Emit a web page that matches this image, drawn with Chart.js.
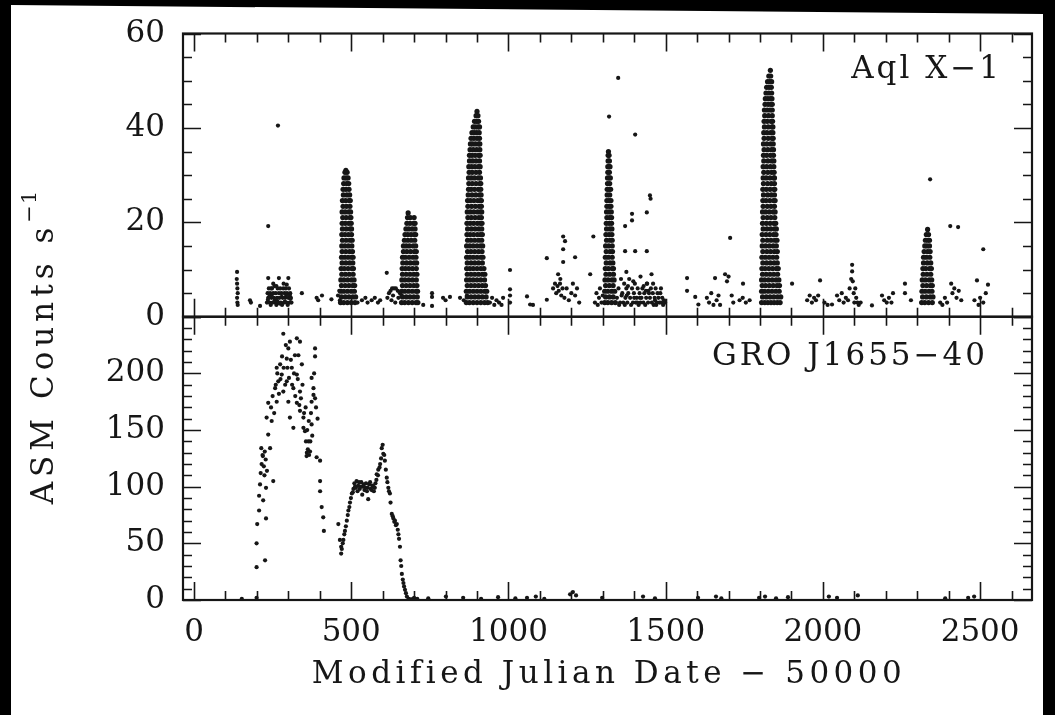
<!DOCTYPE html>
<html lang="en">
<head>
<meta charset="UTF-8">
<title>Aql X-1 / GRO J1655-40 ASM light curves</title>
<script src="https://cdn.jsdelivr.net/npm/chart.js@4"></script>
<style>
  html, body { margin: 0; padding: 0; background: #000; }
  body { width: 1055px; height: 715px; overflow: hidden; position: relative; }
  #sheet { position: absolute; left: 11px; top: 0; width: 1032px; height: 715px; background: #fff;
           clip-path: polygon(0 5px, 100% 14px, 100% 100%, 0 100%); }
  canvas { display: block; }
</style>
</head>
<body>
<div id="sheet"><canvas id="lc" width="1032" height="715"></canvas></div>
<script>
// axis ranges and tick labels
const xRange = [-35, 2665];
const aqlRange = [0, 60];
const groRange = [0, 250];
const xTicks = [0, 500, 1000, 1500, 2000, 2500];
const aqlTicks = [0, 20, 40, 60];
const groTicks = [0, 50, 100, 150, 200];
const xMinor = 100, aqlMinor = 5, groMinor = 10;

// Aql X-1 between outbursts: [MJD-50000, counts/s]
const aqlQuiet = [
  [137,9.5],[136,8],[137,7],[138,6],[139,5],[137,4],[138,3],[139,2.5],[178,3.5],[181,3],[210,2.3],[236,19.2],[236,8.2],[267,40.5],
  [232,3],[234,5],[236,4],[238,6],[240,3],[242,5],[244,2.5],[246,4],[248,6],[250,3],[252,5],[254,4],[256,6.5],[258,3],[260,5],
  [262,2.5],[264,4],[266,6],[268,3],[270,5],[272,4],[274,6],[276,3],[278,5],[280,2.5],[282,4],[284,6],[286,3],[288,5],[290,4],
  [292,6],[294,3],[296,5],[298,2.5],[300,4],[302,6],[304,3],[306,5],[308,4],[310,3],[300,8.2],[270,8.2],[252,7],[285,7],[245,6],
  [262,6.5],[295,6.8],[241,4.5],[257,3.5],[273,2.8],[289,3.2],[305,4.6],[235,3.6],[249,4.8],[265,3.3],[279,4.2],[293,4.6],[307,3.8],
  [343,5],[390,4],[395,3.5],[407,4.5],[437,3.7],[458,4.5],[462,5.5],[464,3.5],
  [520,3],[534,3.5],[545,4],[552,3],[565,3.5],[575,4],[585,3],[592,3.5],[613,9.3],
  [615,4],[620,5],[625,5.5],[630,6],[636,6],[642,6],[648,5.5],[655,5],[660,4.5],[628,3.5],[640,3],[650,4],[633,4.5],
  [729,2.5],[757,5],[757,4.2],[757,2.3],[792,4],[800,3.5],[814,4.2],[846,4],[858,3.5],[868,4.5],
  [941,3],[948,4],[955,2.5],[962,3.5],[970,3],[978,2.5],[983,4],[1005,9.9],[1005,5.8],[1005,4.5],[1005,3],[1059,4.3],[1069,2.6],
  [1078,2.5],[1122,12.4],[1122,3.6],
  [1174,17],[1180,16],[1174,14.3],[1212,12.6],[1174,11.6],[1142,6],[1148,7],[1152,5],[1156,6.5],[1160,5.5],[1164,7],[1168,4.5],
  [1172,6],[1165,8],[1158,9],[1178,4],[1185,6],[1192,3.5],[1200,5],[1205,7],[1212,4.5],[1218,6],[1225,3],[1260,9],[1270,17],
  [1275,3],[1280,5],[1284,2.5],[1288,4],[1291,6],[1296,3],[1300,4.5],
  [1345,4],[1350,6],[1355,3],[1358,8],[1362,5],[1365,3],[1368,7],[1372,4],[1375,6],[1378,3],[1381,5],[1384,8],[1387,4],[1390,2.5],
  [1393,6],[1396,3],[1399,5],[1402,7],[1405,3],[1408,4],[1411,6],[1414,2.5],[1417,5],[1420,3],[1423,4],[1426,6],[1429,3],[1432,5],
  [1435,2.5],[1438,4],[1441,7],[1444,3],[1447,5],[1450,4],[1453,6],[1456,3],[1459,5],[1462,2.5],[1465,4],[1468,6],[1471,3],
  [1474,5],[1477,4],[1480,3],[1483,5],[1486,3],[1489,4],[1492,2.5],[1495,3.5],[1498,3],[1360,4.5],[1370,2.5],[1380,6.5],[1400,4],
  [1410,3],[1430,6.5],[1445,5.5],[1460,7],[1470,2.5],[1485,6],[1352,2.5],[1376,4.5],[1397,7.5],[1418,4],[1437,5.5],[1466,3.5],
  [1349,50.6],[1320,42.4],[1403,38.6],[1450,25.7],[1452,25],[1440,22.1],[1393,21.8],[1393,20.4],[1371,19.2],[1371,13.9],
  [1403,13.9],[1440,13.9],[1440,7],[1375,9.5],[1420,8.5],[1455,9],
  [1568,8.2],[1568,5.5],[1594,4.2],[1604,2.6],[1631,4],[1638,3],[1645,5],[1652,2.5],[1657,8.2],[1662,3.5],[1668,4.5],[1673,2.5],
  [1689,9],[1695,7.5],[1700,8.5],[1705,16.7],[1710,4.5],[1715,3],[1746,7],[1735,3.5],[1745,4],[1755,3],[1767,3.5],
  [1902,7],[1950,3.5],[1958,4.5],[1965,3],[1972,4],[1978,3.5],[1985,4.5],[1991,7.7],[2005,3],[2015,2.5],[2029,2.6],[2045,4.5],
  [2052,3.5],[2060,5],[2066,3],[2073,4],[2080,3.5],[2085,6],[2090,8],[2093,9.6],[2093,11],[2095,7.5],[2098,5],[2100,3],[2103,6],
  [2106,4],[2110,3],[2114,2.5],[2120,3],[2156,2.4],[2188,4.5],[2195,3.5],[2203,3],[2210,4],[2218,3],[2223,5],[2261,7],[2261,5],
  [2280,3.5],
  [2341,29.1],[2373,3],[2380,2.5],[2388,4],[2395,3],[2405,19.2],[2430,19],[2408,7],[2412,5],[2418,6],[2425,4],[2432,5.5],
  [2440,3.5],[2482,3.5],[2490,7.7],[2495,2.5],[2500,4],[2510,14.3],[2510,3],[2518,5],[2525,6.8]
];

// Aql X-1 outbursts: each row is [counts/s, days at which points sit at that level]
const aqlBurst1 = [
  [3,[466,476,488,500,512]],[4.2,[469,481,493,505,514]],[5.4,[466,476,488,500,510]],[6.6,[469,481,493,505,511]],
  [7.8,[467,477,489,501,509]],[9,[470,482,494,506]],[10.2,[468,478,490,502,507]],[11.4,[471,483,495,505]],
  [12.6,[469,479,490,501,506]],[13.8,[471,483,495,504]],[15,[470,480,491,502]],[16.2,[472,484,496,503]],
  [17.4,[470,480,491,501]],[18.6,[472,484,496,501]],[19.8,[471,481,492,500]],[21,[473,484,496,499]],
  [22.2,[471,481,492,498]],[23.4,[474,485,496]],[24.6,[472,482,493,497]],[25.8,[475,486,495]],[27,[474,483,493]],
  [28.2,[476,486,492]],[29.4,[477,484,490]],[30.6,[480,487]],[31,[483]]
];

const aqlBurst2 = [
  [3,[660,670,682,694,706,712]],[4.2,[663,675,687,699,710]],[5.4,[660,670,682,694,706,711]],[6.6,[663,675,687,699,709]],
  [7.8,[661,671,683,695,707]],[9,[663,675,687,699,709]],[10.2,[662,672,683,695,707]],[11.4,[664,676,688,700,708]],
  [12.6,[663,672,684,696,706]],[13.8,[666,677,689,701,707]],[15,[666,675,685,697,705]],[16.2,[669,680,691,702]],
  [17.4,[671,680,690,700,705]],[18.6,[674,683,694,703]],[19.8,[677,687,698,703]],[21,[679,688,700]],[22,[681]]
];

const aqlBurst3 = [
  [3,[866,876,888,900,912,924,934]],[4.2,[869,881,893,905,917,929]],[5.4,[866,876,888,900,912,924,931]],
  [6.6,[869,881,893,905,917,927]],[7.8,[867,877,888,900,912,924]],[9,[869,881,893,905,917,925]],
  [10.2,[867,877,888,900,912,922]],[11.4,[869,881,893,905,917]],[12.6,[867,877,888,900,912,919]],
  [13.8,[870,881,893,905,916]],[15,[867,877,888,900,911,918]],[16.2,[870,881,893,905,915]],
  [17.4,[868,878,889,901,911,917]],[18.6,[870,882,894,906,915]],[19.8,[868,878,889,901,911,916]],
  [21,[871,882,894,906,914]],[22.2,[869,879,890,902,911,915]],[23.4,[871,883,895,907,914]],
  [24.6,[870,879,890,902,911,914]],[25.8,[872,884,896,908,913]],[27,[873,881,892,904,912]],
  [28.2,[874,885,897,909,912]],[29.4,[873,882,892,904,911]],[30.6,[875,885,897,908]],
  [31.8,[874,883,893,904,910]],[33,[876,886,897,908]],[34.2,[876,884,894,905,910]],[35.4,[878,888,899,909]],
  [36.6,[879,886,895,905,909]],[37.8,[881,890,900,908]],[39,[884,891,899,907]],[40.2,[888,895,903,908]],
  [41.4,[892,899,905]],[42.6,[897,903]],[43.5,[900]]
];

const aqlBurst4 = [
  [3,[1306,1316,1328,1340]],[4.2,[1309,1321,1333]],[5.4,[1306,1316,1328,1338]],[6.6,[1309,1321,1333]],
  [7.8,[1307,1317,1329,1336]],[9,[1310,1322,1334]],[10.2,[1308,1318,1330,1334]],[11.4,[1311,1323,1332]],
  [12.6,[1308,1318,1330]],[13.8,[1311,1323,1331]],[15,[1309,1319,1330]],[16.2,[1312,1323,1330]],
  [17.4,[1310,1320,1329]],[18.6,[1312,1322,1329]],[19.8,[1311,1320,1328]],[21,[1313,1322,1328]],
  [22.2,[1312,1320,1327]],[23.4,[1313,1321,1326]],[24.6,[1313,1320,1326]],[25.8,[1314,1322]],
  [27,[1314,1320,1325]],[28.2,[1315,1322]],[29.4,[1315,1320,1324]],[30.6,[1316,1321]],[31.8,[1316,1320,1323]],
  [33,[1317,1321]],[34.2,[1317,1320]],[35,[1318]]
];

const aqlBurst5 = [
  [3,[1805,1815,1825,1835,1845,1855,1864]],[4.2,[1808,1820,1832,1844,1856,1866]],[5.4,[1805,1814,1826,1838,1850,1861]],
  [6.6,[1807,1818,1830,1842,1854,1862]],[7.8,[1805,1815,1827,1839,1851,1860]],[9,[1808,1820,1832,1844,1856]],
  [10.2,[1806,1816,1828,1840,1852,1858]],[11.4,[1809,1821,1833,1845,1855]],[12.6,[1806,1817,1829,1841,1853]],
  [13.8,[1809,1822,1834,1846,1855]],[15,[1807,1818,1830,1842,1852]],[16.2,[1809,1823,1835,1847,1854]],
  [17.4,[1807,1819,1831,1843,1851]],[18.6,[1810,1822,1834,1846,1852]],[19.8,[1808,1820,1832,1844,1850]],
  [21,[1810,1823,1835,1847]],[22.2,[1808,1818,1830,1842,1848]],[23.4,[1810,1823,1835,1846]],
  [24.6,[1809,1819,1831,1843,1848]],[25.8,[1811,1824,1836,1846]],[27,[1809,1820,1832,1844,1847]],
  [28.2,[1811,1824,1836,1846]],[29.4,[1810,1820,1832,1844,1846]],[30.6,[1812,1825,1837,1845]],
  [31.8,[1810,1821,1833,1844]],[33,[1812,1825,1837,1844]],[34.2,[1811,1821,1833,1843]],
  [35.4,[1813,1825,1837,1843]],[36.6,[1811,1822,1834,1842]],[37.8,[1813,1826,1838,1842]],[39,[1812,1822,1834,1841]],
  [40.2,[1814,1826,1838,1841]],[41.4,[1813,1823,1835,1840]],[42.6,[1815,1827,1839]],[43.8,[1814,1823,1832,1839]],
  [45,[1816,1826,1835,1839]],[46.2,[1817,1825,1833,1838]],[47.4,[1819,1828,1837]],[48.6,[1821,1829,1836]],
  [49.8,[1824,1831,1837]],[51,[1828,1834]],[52.2,[1833]]
];

const aqlBurst6 = [
  [3,[2314,2324,2336,2348]],[4.2,[2317,2329,2341,2350]],[5.4,[2315,2325,2337,2347]],[6.6,[2318,2330,2342,2348]],
  [7.8,[2316,2326,2338,2346]],[9,[2319,2331,2343]],[10.2,[2318,2327,2339,2345]],[11.4,[2320,2332,2343]],
  [12.6,[2320,2329,2340]],[13.8,[2322,2333,2341]],[15,[2324,2331,2339]],[16.2,[2326,2334,2339]],
  [17.4,[2329,2336]],[18.5,[2333]]
];

// GRO J1655-40: [MJD-50000, counts/s]
const groFirstPeak = [
  [152,1],[199,2],[199,29],[199,50],[226,35],[201,67],[207,79],[207,92],[210,102],[229,72],[229,99],[220,88],
  [212,112],[215,120],[218,128],[222,118],[225,131],[228,124],[232,114],[214,134],[219,127],[224,110],[242,134],
  [236,146],[231,161],[236,174],[247,158],[252,105],[258,187],[263,205],[263,175],[268,193],[274,208],[284,235],
  [284,184],[279,199],[295,213],[295,193],[305,228],[300,222],[300,175],[305,161],[311,205],[316,187],[316,152],
  [327,231],[332,216],[321,216],[337,228],[327,199],[327,174],[337,184],[337,167],[343,208],[348,161],[348,152],
  [353,149],[356,140],[359,130],[362,133],[364,140],[366,128],[369,131],[358,127],[374,155],[374,175],[374,196],
  [380,181],[380,187],[385,222],[385,215],[385,178],[390,126],[401,123],[401,105],[401,96],[406,82],[411,73],[413,61],
  [245,170],[250,180],[255,165],[260,190],[265,200],[270,182],[275,195],[280,215],[285,205],[290,190],[292,225],
  [297,205],[302,196],[308,212],[312,190],[318,200],[322,180],[330,195],[335,172],[340,178],[345,190],[350,165],
  [355,170],[360,150],[365,158],[370,140],[372,165],[376,145],[382,200],[388,170],[393,160]
];

const groSecondPeak = [
  [459,67],[464,53],[468,41],[468,47],[475,53],[480,61],[486,70],[491,79],[496,86],[502,94],[507,98],[512,100],
  [517,105],[522,101],[527,98],[532,104],[537,100],[542,97],[547,103],[552,99],[554,89],[557,102],[562,98],[567,101],
  [572,96],[577,103],[581,111],[586,115],[592,120],[597,134],[602,129],[607,123],[613,108],[618,99],[623,94],[629,76],
  [634,72],[639,70],[645,67],[650,58],[655,47],[657,35],[661,23],[666,15],[671,9],[677,3],[683,1],[690,0.5],[697,1],
  [704,0.5],[710,1],
  [470,45],[473,50],[478,58],[483,65],[489,75],[494,82],[499,90],[505,95],[510,103],[515,99],[520,96],[525,104],
  [530,100],[535,93],[540,102],[545,99],[550,96],[560,104],[565,97],[570,100],[575,99],[580,106],[585,110],[590,117],
  [595,125],[600,137],[605,128],[610,115],[615,104],[620,96],[625,86],[632,74],[637,69],[642,66],[648,62],[652,54],
  [659,30],[664,18],[668,12],[674,6]
];

const groTail = [
  [700,2],[745,1.5],[801,3],[856,2],[913,1],[967,2.5],[1022,1.5],[1059,2],[1087,3],[1114,1],[1196,5],[1215,4],
  [1205,7],[1298,2],[1428,3],[1466,1.5],[1603,2],[1660,3],[1677,1.5],[1797,2],[1816,3],[1851,1.5],[1889,2.5],
  [2019,3],[2045,2],[2111,4],[2389,1.5],[2462,2],[2481,3]
];

const FONT = "'DejaVu Serif', 'Liberation Serif', serif";
const INK = '#161616';
const pts = arr => arr.map(p => ({ x: p[0], y: p[1] }));
const levelPts = rows => rows.flatMap(([y, days]) => days.map(d => ({ x: d, y })));

// inward ticks on all sides of both panels, the frame, titles
const framePlugin = {
  id: 'frame',
  afterDraw(chart) {
    const { ctx, scales } = chart;
    const xs = scales.x;
    const panels = [
      { s: scales.yAql, major: aqlTicks, step: aqlMinor, lo: aqlRange[0], hi: aqlRange[1] },
      { s: scales.yGro, major: groTicks.concat([250]), step: groMinor, lo: groRange[0], hi: groRange[1] }
    ];
    ctx.save();
    ctx.strokeStyle = INK;
    for (const p of panels) {
      const top = p.s.top, bot = p.s.bottom, left = xs.left, right = xs.right;
      ctx.lineWidth = 1.6;
      ctx.beginPath();
      for (let v = 0; v <= xRange[1]; v += xMinor) {
        const px = Math.round(xs.getPixelForValue(v)) + 0.5;
        const len = xTicks.includes(v) ? 18 : 9;
        ctx.moveTo(px, top); ctx.lineTo(px, top + len);
        ctx.moveTo(px, bot); ctx.lineTo(px, bot - len);
      }
      for (let v = p.lo; v <= p.hi; v += p.step) {
        const py = Math.round(p.s.getPixelForValue(v)) + 0.5;
        const len = p.major.includes(v) ? 18 : 9;
        ctx.moveTo(left, py); ctx.lineTo(left + len, py);
        ctx.moveTo(right, py); ctx.lineTo(right - len, py);
      }
      ctx.stroke();
      ctx.lineWidth = 2.2;
      ctx.strokeRect(left, top, right - left, bot - top);
    }

    ctx.fillStyle = INK;
    ctx.textBaseline = 'middle';
    ctx.font = `31px ${FONT}`;
    ctx.letterSpacing = '3px';
    ctx.textAlign = 'right';
    ctx.fillText('Aql X\u22121', 991, 70);
    ctx.fillText('GRO J1655\u221240', 977, 357);

    ctx.letterSpacing = '4.5px';
    ctx.textAlign = 'center';
    ctx.fillText('Modified Julian Date \u2212 50000', 598, 675);

    // rotated y title with superscript
    ctx.translate(34, 347);
    ctx.rotate(-Math.PI / 2);
    ctx.textAlign = 'left';
    const main = 'ASM Counts s';
    ctx.font = `31px ${FONT}`;
    ctx.letterSpacing = '5px';
    const w1 = ctx.measureText(main).width;
    ctx.font = `21px ${FONT}`;
    ctx.letterSpacing = '1px';
    const w2 = ctx.measureText('\u22121').width;
    const x0 = -(w1 + w2) / 2;
    ctx.font = `31px ${FONT}`;
    ctx.letterSpacing = '5px';
    ctx.fillText(main, x0, 0);
    ctx.font = `21px ${FONT}`;
    ctx.letterSpacing = '1px';
    ctx.fillText('\u22121', x0 + w1, -14);
    ctx.restore();
  }
};

const tickFont = { family: FONT, size: 31, lineHeight: 1 };
const aqlBursts = [aqlBurst1, aqlBurst2, aqlBurst3, aqlBurst4, aqlBurst5, aqlBurst6].flatMap(levelPts);

new Chart(document.getElementById('lc'), {
  type: 'scatter',
  data: {
    datasets: [
      { label: 'Aql X-1 quiet', yAxisID: 'yAql', pointRadius: 2.1, data: pts(aqlQuiet) },
      { label: 'Aql X-1 outbursts', yAxisID: 'yAql', pointRadius: 2.6, data: aqlBursts },
      { label: 'GRO J1655-40', yAxisID: 'yGro', pointRadius: 2.1,
        data: pts([].concat(groFirstPeak, groSecondPeak, groTail)) }
    ]
  },
  options: {
    responsive: false,
    animation: false,
    devicePixelRatio: 1,
    events: [],
    layout: { padding: { left: 0, right: 11, top: 32, bottom: 0 } },
    plugins: { legend: { display: false }, tooltip: { enabled: false } },
    elements: { point: { borderWidth: 0, backgroundColor: INK, pointStyle: 'circle' } },
    scales: {
      x: {
        type: 'linear', position: 'bottom', min: xRange[0], max: xRange[1],
        grid: { display: false, drawTicks: false }, border: { display: false },
        afterBuildTicks: s => { s.ticks = xTicks.map(v => ({ value: v })); },
        afterFit: s => { s.height = 115; },
        ticks: { font: tickFont, color: INK, padding: 17, maxRotation: 0, autoSkip: false, callback: v => String(v) }
      },
      yGro: {
        type: 'linear', position: 'left', stack: 'panels', stackWeight: 1, min: groRange[0], max: groRange[1],
        grid: { display: false, drawTicks: false }, border: { display: false },
        afterBuildTicks: s => { s.ticks = groTicks.map(v => ({ value: v })); },
        afterFit: s => { s.width = 172; },
        ticks: { font: tickFont, color: INK, padding: 18, autoSkip: false, callback: v => String(v) }
      },
      yAql: {
        type: 'linear', position: 'left', stack: 'panels', stackWeight: 1, min: aqlRange[0], max: aqlRange[1],
        grid: { display: false, drawTicks: false }, border: { display: false },
        afterBuildTicks: s => { s.ticks = aqlTicks.map(v => ({ value: v })); },
        afterFit: s => { s.width = 172; },
        ticks: { font: tickFont, color: INK, padding: 18, autoSkip: false, callback: v => String(v) }
      }
    }
  },
  plugins: [framePlugin]
});
</script>
</body>
</html>
